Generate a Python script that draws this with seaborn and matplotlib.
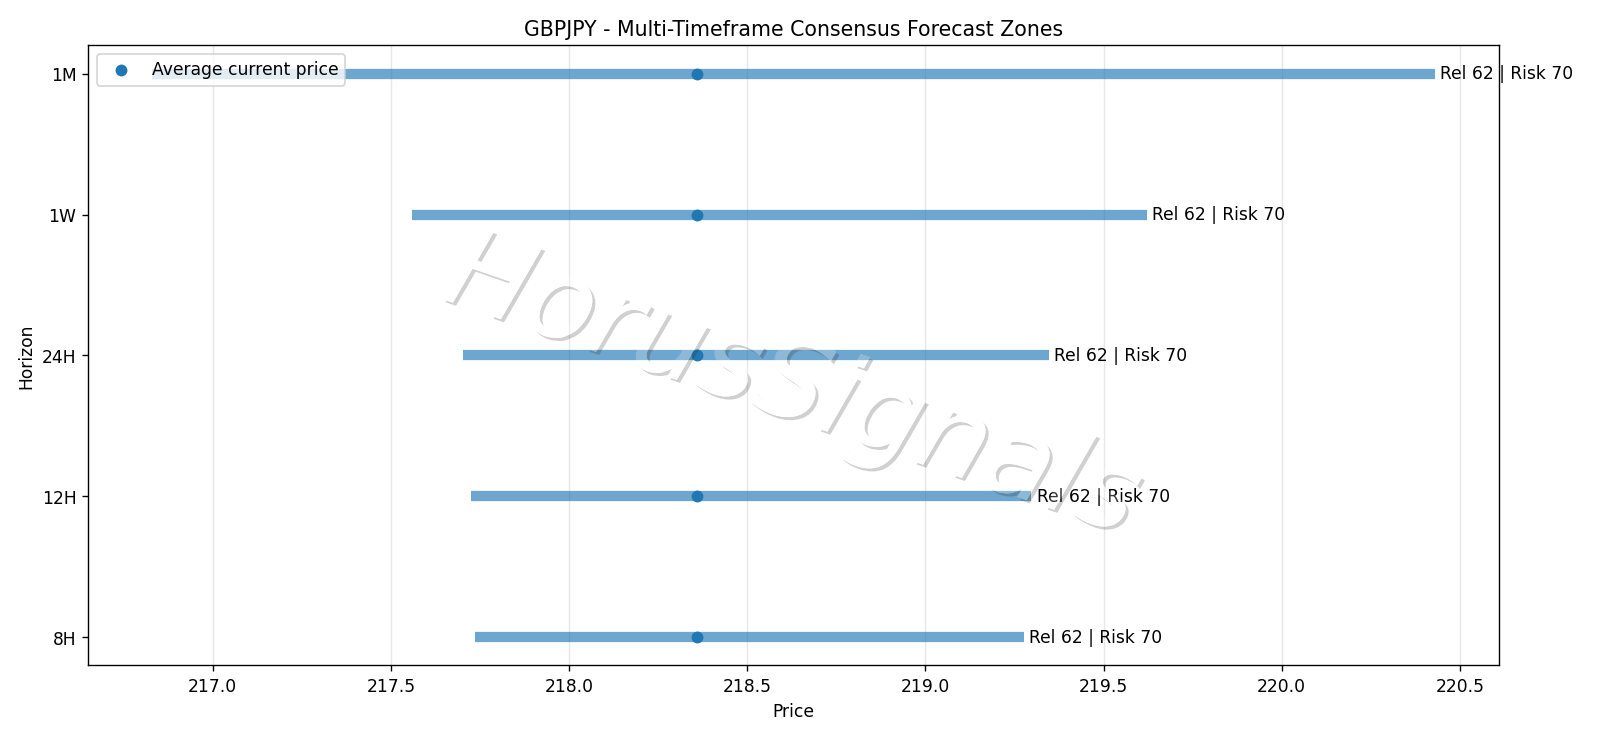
import pandas as pd
import matplotlib
matplotlib.use("Agg")
import matplotlib.pyplot as plt
import matplotlib.patheffects as pe
import seaborn as sns

# forecast zones per horizon
horizons = ["8H", "12H", "24H", "1W", "1M"]
zone_low = [217.736, 217.725, 217.703, 217.559, 216.831]
zone_high = [219.277, 219.297, 219.347, 219.622, 220.430]
current_price = [218.358, 218.358, 218.358, 218.358, 218.358]
reliability = [62, 62, 62, 62, 62]
risk = [70, 70, 70, 70, 70]

df = pd.DataFrame({
    "Horizon": horizons,
    "low": zone_low,
    "high": zone_high,
    "current": current_price,
    "rel": reliability,
    "risk": risk,
})
df["pos"] = range(len(df))

fig, ax = plt.subplots(figsize=(13, 6), dpi=1600 / 13)
fig.subplots_adjust(left=0.0552, right=0.9369, top=0.9378, bottom=0.0985)

ax.hlines(df["pos"], df["low"], df["high"], color="#1f77b4", alpha=0.65, linewidth=6)
sns.scatterplot(data=df, x="current", y="pos", ax=ax, color="#1f77b4", s=48,
                linewidth=0, label="Average current price", zorder=3)

for _, r in df.iterrows():
    ax.text(r["high"] + 0.015, r["pos"], f"Rel {r['rel']} | Risk {r['risk']}",
            va="center", ha="left", fontsize=10)

ax.set_yticks(df["pos"])
ax.set_yticklabels(df["Horizon"])
ax.set_xlabel("Price")
ax.set_ylabel("Horizon")
ax.set_title("GBPJPY - Multi-Timeframe Consensus Forecast Zones", fontsize=12)
ax.grid(axis="x", alpha=0.3)
ax.set_axisbelow(True)
ax.legend(loc="upper left")


def fade(img, dpi):
    img = img.copy()
    img[..., 3] *= 0.22
    return img, 0, 0


# watermark
wm = fig.text(0.495, 0.475, "HorusSignals", fontsize=65, rotation=-19, style="italic",
              ha="center", va="center", color="white", zorder=10,
              path_effects=[pe.withSimplePatchShadow(offset=(1.8, -1.8), shadow_rgbFace="#2a2a2a",
                                                     alpha=1.0, rho=1.0),
                            pe.Normal()])
wm.set_agg_filter(fade)

fig.savefig("out.png", dpi=1600 / 13)
